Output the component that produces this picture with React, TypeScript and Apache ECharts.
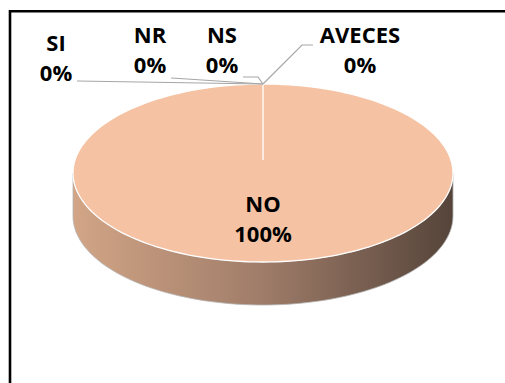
import React, { useEffect, useRef } from 'react';
import * as echarts from 'echarts';

// ---- data ----
const categories = ['SI', 'NR', 'NS', 'NO', 'AVECES'];
const values = [0, 0, 0, 100, 0];

// ---- layout (pixels) ----
const PIE = { cx: 263, cy: 173, rx: 190, ry: 89, depth: 43, apexLift: 13 };
// label block center offsets and leader polyline offsets, relative to the slice anchor on the rim
const LABEL_LAYOUT: Record<string, { dx: number; dy: number; leader: number[][] }> = {
  SI: { dx: -207, dy: -27, leader: [[-186, -3]] },
  NR: { dx: -113, dy: -35, leader: [[-92, -6], [-76, -5]] },
  NS: { dx: -41, dy: -35, leader: [[-20, -7], [-5, -7]] },
  AVECES: { dx: 97, dy: -35, leader: [[50, -39], [39, -39]] },
};
const FONT = 'bold 22px "Open Sans", sans-serif';
const TOP_COLOR = '#F5C3A4';
const SIDE_STOPS = [
  { offset: 0, color: '#D2A586' },
  { offset: 0.5, color: '#9F7C69' },
  { offset: 1, color: '#55443A' },
];

const total = values.reduce((a, b) => a + b, 0);
const startAngles: number[] = [];
{
  let acc = 0;
  values.forEach((v) => {
    startAngles.push((acc / total) * 360);
    acc += v;
  });
}

const pt = (deg: number, dy = 0): number[] => {
  const r = (deg * Math.PI) / 180;
  return [PIE.cx + PIE.rx * Math.sin(r), PIE.cy - PIE.ry * Math.cos(r) + dy];
};

const arcPts = (a0: number, a1: number, dy = 0): number[][] => {
  const pts: number[][] = [];
  const n = Math.max(2, Math.ceil(Math.abs(a1 - a0) / 2));
  for (let i = 0; i <= n; i++) pts.push(pt(a0 + ((a1 - a0) * i) / n, dy));
  return pts;
};

const renderItem = (params: any, api: any) => {
  const i = params.dataIndex;
  const v = api.value(0) as number;
  const name = categories[i];
  const a0 = startAngles[i];
  const a1 = a0 + (v / total) * 360;
  const pct = Math.round((v / total) * 100) + '%';
  const children: any[] = [];

  if (v > 0) {
    // side wall (visible front half 90..270)
    const s = Math.max(a0, 90);
    const e = Math.min(a1, 270);
    if (e > s) {
      const top = arcPts(s, e);
      const bot = arcPts(s, e, PIE.depth).reverse();
      children.push({
        type: 'polygon',
        shape: { points: top.concat(bot) },
        style: {
          fill: { type: 'linear', x: 0, y: 0, x2: 1, y2: 0, colorStops: SIDE_STOPS, global: false },
          stroke: '#B5B5B5',
          lineWidth: 0.8,
        },
        z2: 1,
      });
    }
    // top face
    const apex = [PIE.cx, PIE.cy - PIE.apexLift];
    children.push({
      type: 'polygon',
      shape: { points: [apex].concat(arcPts(a0, a1)) },
      style: { fill: TOP_COLOR, stroke: '#FFFFFF', lineWidth: 1.3 },
      z2: 2,
    });
    // label inside the slice
    const mid = (a0 + a1) / 2;
    const r = (mid * Math.PI) / 180;
    children.push({
      type: 'text',
      style: {
        text: name + '\n' + pct,
        x: PIE.cx + PIE.rx * 0.5 * Math.sin(r),
        y: PIE.cy - PIE.ry * 0.5 * Math.cos(r),
        fill: '#000',
        font: FONT,
        align: 'center',
        verticalAlign: 'middle',
        lineHeight: 30,
      },
      z2: 20,
    });
  } else {
    const anchor = pt(a0);
    const lay = LABEL_LAYOUT[name];
    const pts = lay.leader.map((p) => [anchor[0] + p[0], anchor[1] + p[1]]).concat([anchor]);
    children.push({
      type: 'polyline',
      shape: { points: pts },
      style: { stroke: '#A6A6A6', lineWidth: 1.2, fill: 'none' },
      z2: 10,
    });
    children.push({
      type: 'text',
      style: {
        text: name + '\n' + pct,
        x: anchor[0] + lay.dx,
        y: anchor[1] + lay.dy,
        fill: '#000',
        font: FONT,
        align: 'center',
        verticalAlign: 'middle',
        lineHeight: 30,
      },
      z2: 20,
    });
  }
  return { type: 'group', children };
};

export default function App() {
  const ref = useRef<HTMLDivElement>(null);
  useEffect(() => {
    if (!ref.current) return;
    const chart = echarts.init(ref.current, null, { renderer: 'svg' });
    chart.setOption({
      animation: false,
      backgroundColor: '#ffffff',
      graphic: [
        {
          type: 'rect',
          shape: { x: 10, y: 11.3, width: 700, height: 700 },
          style: { fill: 'none', stroke: '#000', lineWidth: 2.6 },
          z: 0,
        },
      ],
      series: [
        {
          type: 'custom',
          coordinateSystem: 'none',
          renderItem,
          data: values.map((v, i) => ({ name: categories[i], value: [v] })),
          silent: true,
        },
      ],
    });
    return () => chart.dispose();
  }, []);
  return (
    <div
      ref={ref}
      style={{ position: 'absolute', left: 0, top: 0, width: 505, height: 383 }}
    />
  );
}
